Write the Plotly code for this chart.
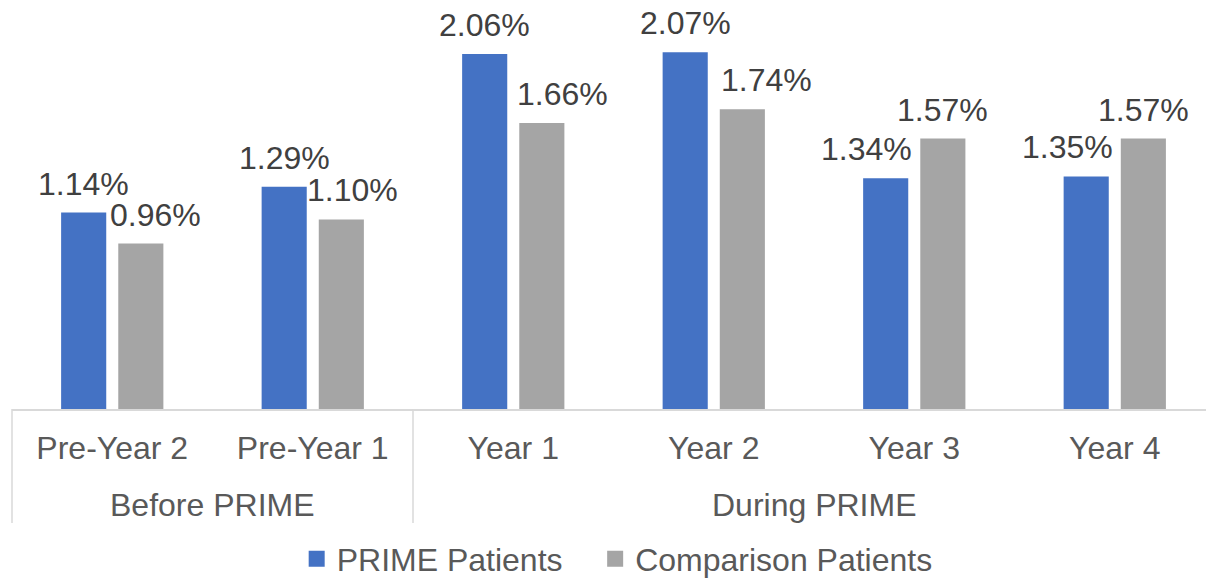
import plotly.graph_objects as go

# ---- data ----
categories = ["Pre-Year 2", "Pre-Year 1", "Year 1", "Year 2", "Year 3", "Year 4"]
groups = ["Before PRIME", "Before PRIME", "During PRIME", "During PRIME", "During PRIME", "During PRIME"]
prime_patients = [1.14, 1.29, 2.06, 2.07, 1.34, 1.35]
comparison_patients = [0.96, 1.10, 1.66, 1.74, 1.57, 1.57]
series_names = ["PRIME Patients", "Comparison Patients"]

# ---- style ----
COLORS = ["#4472C4", "#A5A5A5"]
FONT = "Liberation Sans, Arial, sans-serif"
LABEL_COLOR = "#404040"
AXIS_COLOR = "#595959"
LINE_COLOR = "#D9D9D9"
FS = 32
BAR_OFFSET = 0.1425          # bar centre offset from category centre (axis units)
label_nudge_px = [            # horizontal nudges of the data labels (px)
    [0, 0, 0, 0, -19, -18.5],
    [14.5, 11, 20.5, 24.5, 0, 0],
]
legend_x = [0.246, 0.4935]
X_RANGE = [-0.5, 5.455]
Y_RANGE = [0, 2.374]

xs = list(range(len(categories)))
fig = go.Figure()
for s, (name, vals) in enumerate(zip(series_names, [prime_patients, comparison_patients])):
    fig.add_trace(go.Bar(
        x=xs, y=vals, name=name, marker=dict(color=COLORS[s], line=dict(width=0)),
        showlegend=False, hoverinfo="skip",
    ))
    # legend proxy
    fig.add_trace(go.Scatter(
        x=[None], y=[None], mode="markers", name=name,
        legend="legend" if s == 0 else "legend2",
        marker=dict(symbol="square", size=17, color=COLORS[s]),
    ))
    sign = -1 if s == 0 else 1
    for i, v in enumerate(vals):
        fig.add_annotation(
            x=i + sign * BAR_OFFSET, y=v, xref="x", yref="y",
            text=f"{v:.2f}%", showarrow=False, yanchor="bottom", xanchor="center",
            yshift=9, xshift=label_nudge_px[s][i],
            font=dict(family=FONT, size=FS, color=LABEL_COLOR),
        )

# group labels and dividers
span = X_RANGE[1] - X_RANGE[0]
def to_paper(xv):
    return (xv - X_RANGE[0]) / span

uniq = []
for g in groups:
    if g not in uniq:
        uniq.append(g)
bounds = [-0.5]
for g in uniq:
    idx = [i for i, gg in enumerate(groups) if gg == g]
    fig.add_annotation(
        x=(idx[0] + idx[-1]) / 2, y=-0.234, xref="x", yref="paper",
        text=g, showarrow=False, yanchor="middle",
        font=dict(family=FONT, size=FS, color=AXIS_COLOR),
    )
    bounds.append(idx[-1] + 0.5)
for b in bounds:
    fig.add_shape(type="line", xref="paper", yref="paper",
                  x0=to_paper(b), x1=to_paper(b), y0=0, y1=-0.279,
                  line=dict(color=LINE_COLOR, width=1.5))

legend_common = dict(
    orientation="h", xref="container", yref="container",
    y=1 - 559 / 578, xanchor="left", yanchor="middle",
    font=dict(family=FONT, size=FS, color=AXIS_COLOR),
    bgcolor="rgba(0,0,0,0)",
)

fig.update_layout(
    width=1206, height=578,
    margin=dict(l=12, r=0, t=0, b=169, autoexpand=False),
    paper_bgcolor="white", plot_bgcolor="white",
    barmode="group", bargap=0.43, bargroupgap=0.2105,
    font=dict(family=FONT, size=FS, color=AXIS_COLOR),
    xaxis=dict(
        range=X_RANGE, tickmode="array", tickvals=xs, ticktext=categories,
        showgrid=False, zeroline=False, showline=True, linecolor=LINE_COLOR, linewidth=1.5,
        ticks="", ticklabelstandoff=10, tickfont=dict(family=FONT, size=FS, color=AXIS_COLOR),
        fixedrange=True,
    ),
    yaxis=dict(range=Y_RANGE, visible=False, showgrid=False, zeroline=False, fixedrange=True),
    legend=dict(x=legend_x[0], **legend_common),
    legend2=dict(x=legend_x[1], **legend_common),
    showlegend=True,
)

fig.write_html("out.html", config={"displayModeBar": False},
               post_script="document.body.style.margin='0';")
